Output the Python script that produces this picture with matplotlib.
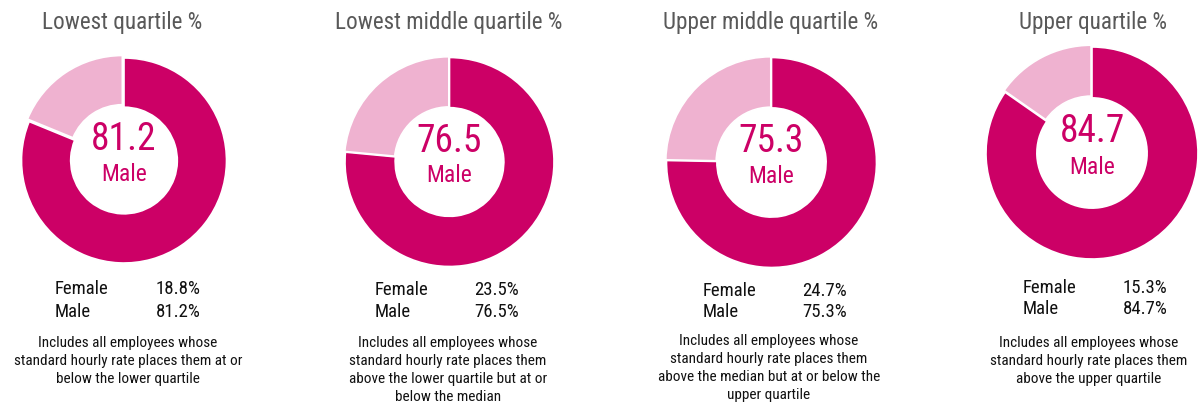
import matplotlib.pyplot as plt

plt.rcParams["font.family"] = ["Roboto Condensed", "Archivo Narrow", "DejaVu Sans"]

titles = ["Lowest quartile %", "Lowest middle quartile %", "Upper middle quartile %", "Upper quartile %"]
female = [18.8, 23.5, 24.7, 15.3]
male = [81.2, 76.5, 75.3, 84.7]
descriptions = [
    "Includes all employees whose\nstandard hourly rate places them at or\nbelow the lower quartile",
    "Includes all employees whose\nstandard hourly rate places them\nabove the lower quartile but at or\nbelow the median",
    "Includes all employees whose\nstandard hourly rate places them\nabove the median but at or below the\nupper quartile",
    "Includes all employees whose\nstandard hourly rate places them\nabove the upper quartile",
]

# layout in pixels (y measured from top)
centers = [(124, 160.5), (449.5, 162), (771.5, 162.5), (1092, 153)]
radii = [102.5, 104.5, 105, 106]
explode_f = [3, 1, 1, 2]
title_x = [122, 449, 771, 1093]
row_x = [(55, 156), (375, 474), (703, 802), (1023, 1123)]
row_y = [(289, 312), (290, 312), (291, 312), (288, 309)]
desc_x = [128, 448, 769, 1089]
desc_y = [344, 344, 342, 344]

DARK = "#cc0066"
LIGHT = "#efb2d0"
H = 408

fig = plt.figure(figsize=(11.98, 4.08), dpi=100)
ax = fig.add_axes([0, 0, 1, 1])

for i in range(4):
    cx, cy = centers[i]
    r = radii[i]
    ax.pie([male[i], female[i]], colors=[DARK, LIGHT], center=(cx, H - cy), radius=r,
           startangle=90, counterclock=False, explode=[0, explode_f[i]],
           wedgeprops=dict(width=r * 0.48, edgecolor="white", linewidth=1.2))
    ax.text(cx, H - cy + 21, f"{male[i]:.1f}", color=DARK, fontsize=27, ha="center", va="center")
    ax.text(cx, H - cy - 14, "Male", color=DARK, fontsize=17, ha="center", va="center")
    ax.text(title_x[i], H - 22, titles[i], color="#595959", fontsize=16.7, ha="center", va="center")
    fx, vx = row_x[i]
    fy, my = row_y[i]
    ax.text(fx, H - fy, "Female", fontsize=13.5, ha="left", va="center", color="#111111")
    ax.text(vx, H - fy, f"{female[i]:.1f}%", fontsize=13.5, ha="left", va="center", color="#111111")
    ax.text(fx, H - my, "Male", fontsize=13.5, ha="left", va="center", color="#111111")
    ax.text(vx, H - my, f"{male[i]:.1f}%", fontsize=13.5, ha="left", va="center", color="#111111")
    ax.text(desc_x[i], H - desc_y[i] + 8, descriptions[i], fontsize=11, ha="center", va="top",
            linespacing=1.37, color="#111111")

ax.set_xlim(0, 1198)
ax.set_ylim(0, H)
ax.set_aspect("auto")
ax.axis("off")

fig.savefig("out.png", dpi=100)
